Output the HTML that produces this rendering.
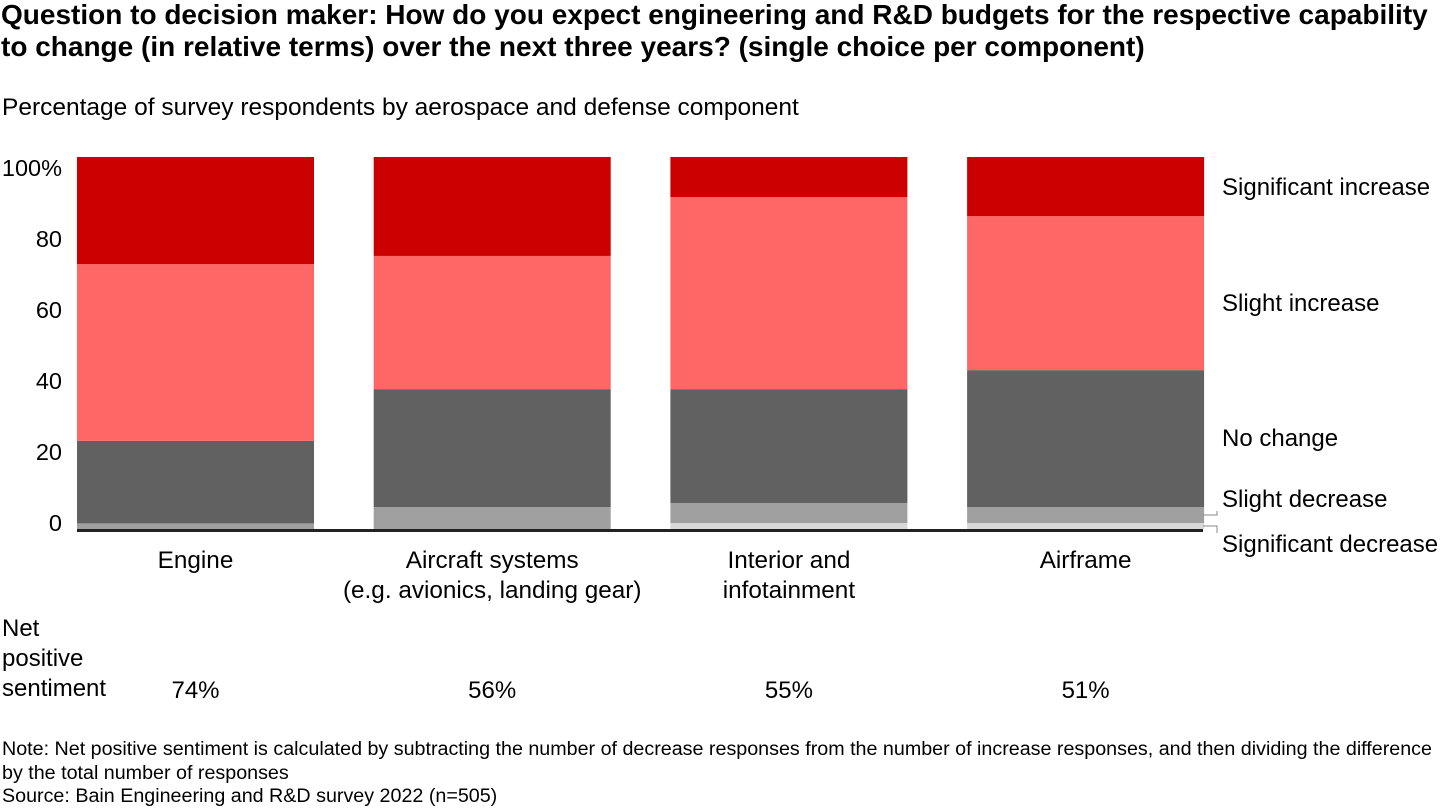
<!DOCTYPE html>
<html><head><meta charset="utf-8"><style>
body{margin:0;width:1440px;height:810px;background:#fff;font-family:"Liberation Sans",Arial,sans-serif;color:#000;overflow:hidden;position:relative}
.t{position:absolute;white-space:nowrap}
</style></head><body>
<div class="t" style="left:1px;top:-1px;font-size:28px;font-weight:bold;line-height:32px">Question to decision maker: How do you expect engineering and R&amp;D budgets for the respective capability<br>to change (in relative terms) over the next three years? (single choice per component)</div>
<div class="t" style="left:2px;top:94px;font-size:24.5px">Percentage of survey respondents by aerospace and defense component</div>
<svg id="chart" width="1440" height="810" style="position:absolute;left:0;top:0" font-family="Liberation Sans, Arial, sans-serif"></svg>
<div class="t" style="left:2px;top:614px;font-size:24px;line-height:30px">Net<br>positive<br>sentiment</div>
<div class="t" style="left:2px;top:738px;font-size:19.7px;line-height:23.5px">Note: Net positive sentiment is calculated by subtracting the number of decrease responses from the number of increase responses, and then dividing the difference<br>by the total number of responses<br>Source: Bain Engineering and R&amp;D survey 2022 (n=505)</div>
<script>
const categories=["Engine","Aircraft systems\n(e.g. avionics, landing gear)","Interior and\ninfotainment","Airframe"];
const sigDecrease=[0,0,1.6,1.6];
const slightDecrease=[1.5,5.9,5.4,4.3];
const noChange=[22.2,31.7,30.6,36.8];
const slightIncrease=[47.5,35.8,51.6,41.4];
const sigIncrease=[28.8,26.6,10.8,15.9];
const netPositive=["74%","56%","55%","51%"];
const tickLabels=["0","20","40","60","80","100%"];
const tickValues=[0,20,40,60,80,100];
const seriesNames=["Significant decrease","Slight decrease","No change","Slight increase","Significant increase"];
const series=[sigDecrease,slightDecrease,noChange,slightIncrease,sigIncrease];
const colors=["#d9d9d9","#a0a0a0","#616161","#ff6666","#cc0000"];
const NS="http://www.w3.org/2000/svg";
const svg=document.getElementById('chart');
const y0=529,y100=157;
const y=v=>y0-(y0-y100)*v/100;
const tickY=v=>523-(523-168)*v/100;
const x=i=>77+i*296.7, bw=237;
function mk(t,a){const e=document.createElementNS(NS,t);for(const k in a)e.setAttribute(k,a[k]);svg.appendChild(e);return e;}
tickValues.forEach((v,i)=>{const e=mk('text',{x:62,y:tickY(v)+8,'text-anchor':'end','font-size':23.5});e.textContent=tickLabels[i];

});
const tops=[];
categories.forEach((c,i)=>{let cum=0;series.forEach((s,k)=>{const v=s[i];if(v>0){const r=mk('rect',{x:x(i),y:y(cum+v),width:bw,height:y(cum)-y(cum+v),fill:colors[k]});

}
if(i==3)tops.push([cum,cum+v]);cum+=v;});
const lines=c.split('\n');lines.forEach((l,j)=>{const t=mk('text',{x:x(i)+bw/2,y:568+j*30,'text-anchor':'middle','font-size':24.3});t.textContent=l;

});
const n=mk('text',{x:x(i)+bw/2,y:698,'text-anchor':'middle','font-size':24});n.textContent=netPositive[i];

});
const base=mk('rect',{x:77,y:529,width:1126,height:3,fill:'#222'});


const legY=[544,499,438,303,187];
seriesNames.forEach((s,k)=>{const t=mk('text',{x:1222,y:legY[k]+8,'font-size':24});t.textContent=s;

});
const ld1=mk('polyline',{points:`1203,${(y(tops[1][0])+y(tops[1][1]))/2} 1217,${(y(tops[1][0])+y(tops[1][1]))/2} 1217,${legY[1]+12}`,fill:'none',stroke:'#888','stroke-width':1});


const ld2=mk('polyline',{points:`1203,${(y(tops[0][0])+y(tops[0][1]))/2} 1217,${(y(tops[0][0])+y(tops[0][1]))/2} 1217,533`,fill:'none',stroke:'#888','stroke-width':1});


</script>
</body></html>
